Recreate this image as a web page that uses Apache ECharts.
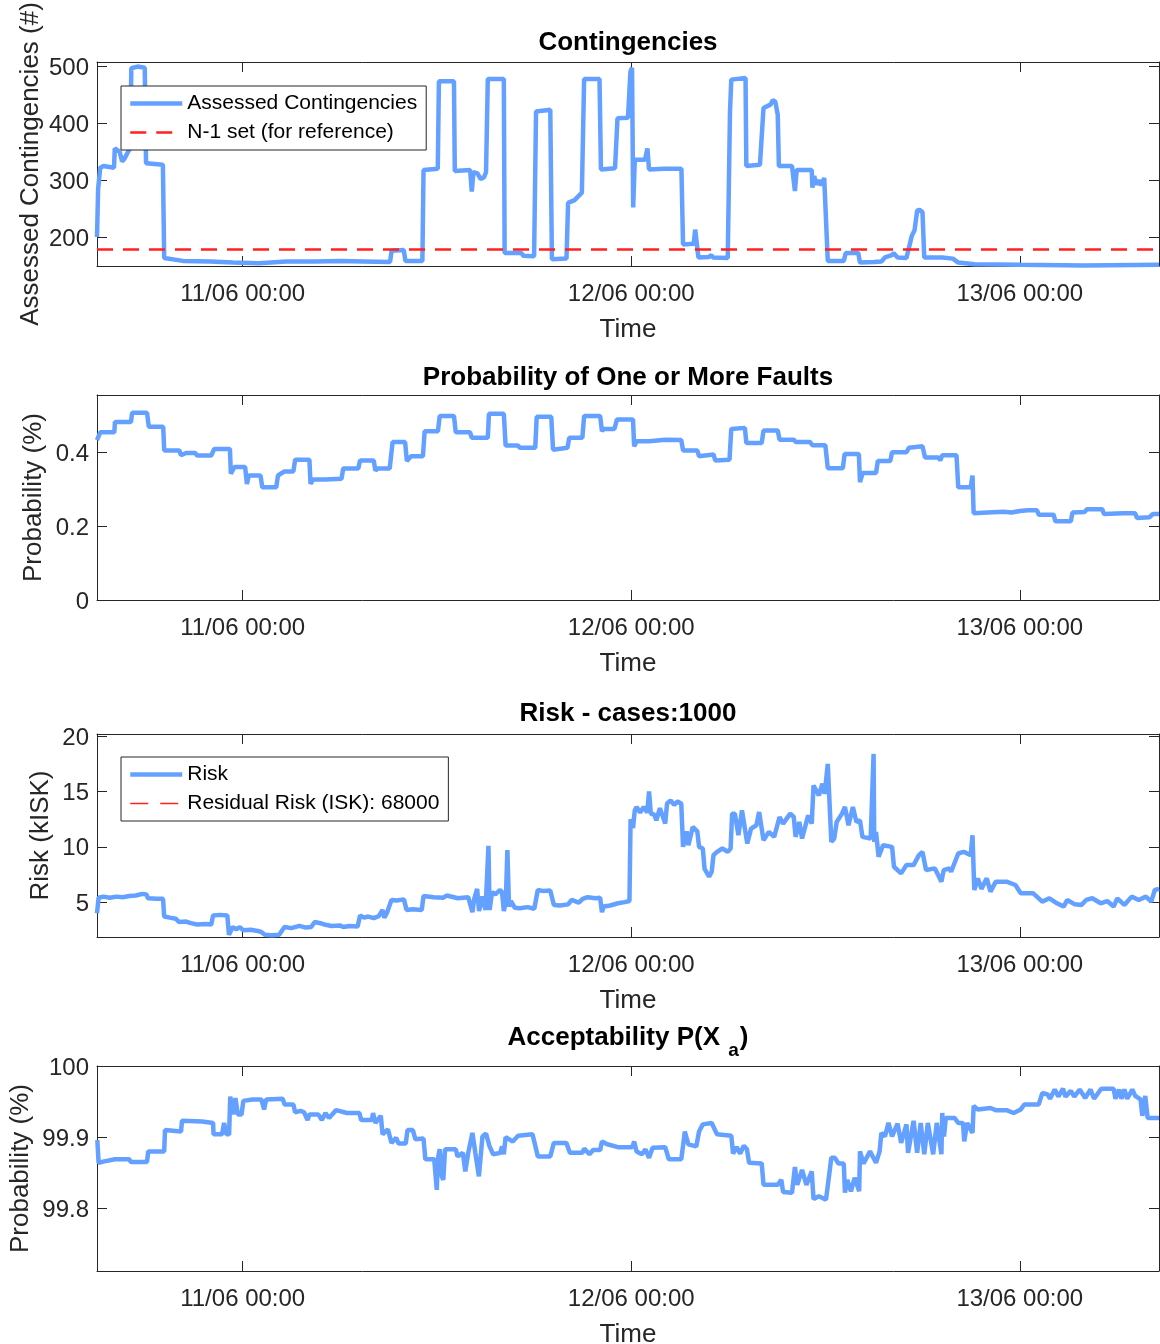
<!DOCTYPE html>
<html><head><meta charset="utf-8">
<script src="https://cdn.jsdelivr.net/npm/echarts@6/dist/echarts.min.js"></script>
<style>html,body{margin:0;padding:0;background:#fff}#c{width:1160px;height:1344px}</style>
</head><body><div id="c"></div><script>
// ---------------- DATA (time in hours relative to 11/06 00:00) ----------------
const timeTickHours = [0, 24, 48];
const timeTickLabels = ['11/06 00:00', '12/06 00:00', '13/06 00:00'];
const timeStart = -9.0, timeEnd = 56.6;

const contingencies = [[-9.0,200],[-8.93,285],[-8.8,322],[-8.6,325],[-7.95,322],[-7.9,356],[-7.6,350],[-7.45,333],[-7.3,338],[-7.12,348],[-6.95,356],[-6.88,497],[-6.5,500],[-6.05,498],[-5.97,330],[-5.6,329],[-4.93,327],[-4.85,163],[-3.7,158],[-2.0,157],[-0.6,155],[1.0,154],[2.7,157],[4.5,157],[6.0,158],[7.5,157],[9.1,156],[9.2,176],[9.95,177],[10.05,158],[11.1,158],[11.17,318],[12.05,320],[12.12,474],[13.05,474],[13.1,316],[14.05,318],[14.15,280],[14.25,314],[14.5,312],[14.7,302],[14.9,305],[15.03,314],[15.14,478],[16.13,478],[16.18,172],[17.2,172],[17.34,167],[18.0,166],[18.12,421],[19.0,424],[19.1,161],[20.0,162],[20.1,260],[20.5,265],[20.95,278],[21.09,478],[22.04,478],[22.13,319],[23.0,321],[23.15,409],[23.8,410],[23.95,491],[24.05,498],[24.12,252],[24.22,336],[24.85,336],[25.0,356],[25.1,319],[26.0,320],[27.1,320],[27.2,187],[27.86,188],[27.95,213],[28.05,213],[28.15,164],[28.8,165],[28.95,168],[29.05,164],[29.96,163],[30.1,420],[30.18,477],[31.06,480],[31.11,325],[31.95,327],[32.17,427],[32.6,433],[32.75,441],[32.9,438],[33.05,415],[33.12,325],[33.93,325],[34.05,325],[34.11,281],[34.22,318],[35.15,318],[35.19,287],[35.3,307],[35.45,292],[35.59,300],[35.75,291],[35.92,304],[36.14,158],[37.13,158],[37.25,172],[38.02,172],[38.13,155],[39.0,156],[39.45,157],[39.67,164],[40.11,168],[40.2,172],[40.45,164],[41.0,163],[41.33,202],[41.5,212],[41.66,246],[41.8,248],[41.99,244],[42.1,164],[43.21,164],[43.87,162],[44.2,155],[45.2,152],[48.0,151],[52.0,150],[56.6,151]];
const n1SetSize = 178;

const faultProbability = [[-9.0,0.433],[-8.8,0.454],[-7.93,0.454],[-7.89,0.482],[-6.9,0.482],[-6.83,0.507],[-5.91,0.507],[-5.8,0.469],[-4.91,0.469],[-4.85,0.405],[-3.92,0.405],[-3.81,0.392],[-3.5,0.398],[-2.93,0.398],[-2.82,0.391],[-1.94,0.391],[-1.76,0.409],[-0.79,0.409],[-0.73,0.342],[-0.51,0.36],[0.15,0.36],[0.26,0.314],[0.37,0.337],[1.1,0.337],[1.21,0.305],[2.07,0.305],[2.18,0.337],[2.58,0.348],[3.13,0.348],[3.24,0.38],[4.12,0.38],[4.19,0.314],[4.34,0.326],[5.11,0.326],[5.22,0.328],[6.1,0.328],[6.21,0.356],[7.14,0.356],[7.25,0.378],[8.09,0.378],[8.2,0.35],[8.31,0.356],[9.08,0.356],[9.26,0.428],[10.03,0.428],[10.14,0.376],[10.4,0.389],[11.13,0.389],[11.24,0.457],[12.06,0.457],[12.17,0.498],[13.05,0.498],[13.16,0.454],[14.04,0.454],[14.15,0.439],[15.14,0.439],[15.21,0.504],[16.13,0.504],[16.24,0.418],[17.01,0.418],[17.12,0.412],[18.07,0.412],[18.16,0.496],[19.06,0.496],[19.17,0.407],[20.06,0.412],[20.17,0.439],[20.98,0.439],[21.09,0.498],[22.08,0.498],[22.19,0.457],[22.3,0.463],[22.96,0.463],[23.12,0.489],[24.11,0.489],[24.18,0.416],[24.33,0.43],[25.1,0.43],[25.21,0.434],[26.1,0.434],[26.21,0.433],[27.09,0.433],[27.2,0.405],[28.08,0.405],[28.19,0.389],[28.25,0.394],[29.08,0.394],[29.19,0.378],[29.25,0.38],[30.07,0.38],[30.18,0.463],[31.02,0.466],[31.11,0.425],[32.06,0.425],[32.17,0.459],[33.05,0.459],[33.16,0.434],[34.04,0.434],[34.15,0.428],[35.04,0.428],[35.19,0.419],[35.99,0.419],[36.14,0.357],[37.07,0.357],[37.18,0.395],[38.06,0.395],[38.13,0.319],[38.3,0.344],[39.12,0.344],[39.23,0.376],[40.0,0.376],[40.11,0.4],[41.0,0.4],[41.15,0.412],[41.99,0.416],[42.15,0.386],[42.98,0.386],[43.09,0.378],[43.21,0.392],[44.09,0.392],[44.2,0.305],[44.97,0.305],[45.08,0.337],[45.15,0.235],[46.0,0.237],[47.0,0.239],[47.5,0.237],[48.0,0.241],[48.5,0.243],[49.06,0.243],[49.17,0.231],[50.09,0.231],[50.2,0.213],[51.15,0.213],[51.26,0.237],[52.0,0.238],[52.15,0.246],[53.09,0.246],[53.2,0.233],[54.4,0.235],[55.13,0.235],[55.24,0.222],[56.01,0.224],[56.23,0.233],[56.6,0.233]];

const riskKISK = [[-9.0,4.0],[-8.9,5.4],[-8.6,5.5],[-8.2,5.4],[-7.8,5.5],[-7.4,5.45],[-7.0,5.55],[-6.6,5.6],[-6.2,5.75],[-5.95,5.7],[-5.85,5.35],[-5.3,5.3],[-4.92,5.3],[-4.85,3.7],[-4.5,3.6],[-4.14,3.5],[-3.92,3.2],[-3.5,3.25],[-3.2,3.1],[-2.82,2.98],[-2.3,3.02],[-1.94,2.98],[-1.83,3.8],[-1.4,3.85],[-0.95,3.8],[-0.85,2.05],[-0.62,2.75],[-0.4,2.55],[-0.18,2.75],[0.04,2.45],[0.5,2.5],[0.93,2.4],[1.15,2.3],[1.37,2.05],[1.8,2.0],[2.25,2.05],[2.58,2.75],[3.0,2.65],[3.5,2.85],[3.9,2.7],[4.23,2.75],[4.45,3.2],[4.8,3.1],[5.11,2.95],[5.5,2.85],[5.99,2.9],[6.21,2.75],[6.6,2.85],[7.1,2.8],[7.25,3.8],[7.5,3.6],[7.76,3.7],[8.1,3.55],[8.42,3.75],[8.64,4.3],[8.75,3.6],[8.9,4.0],[9.19,5.2],[9.5,5.15],[9.96,5.25],[10.12,4.3],[10.5,4.35],[11.06,4.3],[11.17,5.55],[11.28,5.4],[11.8,5.45],[12.4,5.4],[12.6,5.6],[13.3,5.35],[13.93,5.45],[14.19,4.1],[14.3,5.3],[14.48,6.2],[14.6,4.2],[14.81,5.5],[15.0,4.3],[15.1,4.2],[15.18,10.1],[15.25,4.3],[15.4,5.9],[15.6,5.7],[15.9,6.1],[16.02,5.9],[16.13,4.2],[16.25,5.0],[16.35,9.7],[16.45,4.6],[16.57,5.1],[16.8,4.5],[17.12,4.45],[17.6,4.55],[18.01,4.4],[18.23,6.1],[18.6,6.0],[19.0,6.05],[19.22,4.75],[19.6,4.7],[20.1,4.8],[20.32,5.2],[20.76,4.95],[21.0,5.3],[21.31,5.45],[21.8,5.35],[22.08,5.4],[22.19,4.1],[22.3,4.6],[22.7,4.7],[23.18,4.9],[23.6,5.0],[23.89,5.1],[23.96,12.5],[24.11,11.7],[24.22,13.3],[24.33,13.6],[24.55,13.1],[24.77,13.6],[24.99,13.1],[25.1,15.0],[25.21,13.0],[25.43,12.9],[25.55,12.4],[25.77,13.5],[26.1,12.1],[26.21,13.9],[26.43,14.2],[26.65,13.8],[26.87,14.1],[27.09,13.9],[27.2,10.0],[27.42,11.4],[27.53,10.15],[27.8,11.8],[28.08,11.4],[28.19,10.0],[28.42,9.85],[28.53,8.0],[28.64,8.0],[28.81,7.3],[28.97,7.75],[29.08,9.25],[29.3,9.55],[29.63,9.85],[29.96,9.55],[30.14,9.85],[30.23,13.0],[30.4,13.0],[30.62,11.05],[30.84,13.3],[31.17,10.3],[31.4,11.65],[31.73,11.95],[31.9,13.15],[32.17,10.6],[32.5,11.35],[32.83,10.9],[33.16,12.7],[33.38,12.1],[33.82,13.0],[34.04,12.7],[34.15,10.9],[34.38,12.25],[34.55,10.75],[34.93,12.85],[35.15,12.1],[35.26,15.55],[35.59,14.65],[35.81,15.7],[35.95,14.8],[36.14,17.5],[36.36,10.45],[36.54,10.75],[36.69,12.25],[37.02,13.0],[37.2,13.6],[37.42,11.95],[37.69,13.6],[37.91,12.25],[38.13,12.4],[38.28,10.9],[38.79,10.75],[38.9,10.9],[38.97,18.4],[39.01,10.45],[39.12,11.35],[39.28,9.1],[39.56,10.15],[40.11,10.0],[40.23,8.2],[40.67,7.6],[41.0,8.35],[41.44,8.35],[41.77,9.25],[41.99,9.55],[42.21,7.9],[42.76,8.05],[43.16,6.85],[43.3,7.9],[43.65,8.05],[43.76,7.75],[44.2,9.4],[44.53,9.55],[44.97,9.25],[45.08,11.05],[45.19,6.1],[45.41,7.15],[45.63,6.2],[45.96,7.15],[46.19,5.95],[46.52,6.85],[47.18,6.85],[47.73,6.55],[48.06,5.8],[48.83,5.8],[49.39,5.05],[49.83,5.35],[50.3,4.9],[50.71,4.6],[50.93,5.2],[51.4,4.8],[51.81,4.75],[52.1,5.2],[52.48,5.35],[53.0,4.9],[53.4,5.1],[53.8,4.6],[54.02,5.35],[54.46,4.75],[54.91,5.5],[55.35,5.2],[55.79,5.5],[56.12,5.05],[56.34,6.1],[56.6,6.2]];
const residualRiskKISK = 68;

const acceptability = [[-8.98,99.896],[-8.9,99.864],[-8.55,99.866],[-7.89,99.869],[-7.01,99.869],[-6.9,99.865],[-5.91,99.865],[-5.84,99.880],[-4.85,99.880],[-4.8,99.910],[-3.81,99.908],[-3.75,99.923],[-2.5,99.922],[-1.83,99.920],[-1.8,99.904],[-1.28,99.904],[-1.15,99.920],[-1.0,99.904],[-0.84,99.904],[-0.77,99.957],[-0.6,99.932],[-0.45,99.955],[-0.3,99.932],[-0.07,99.932],[0.04,99.951],[0.6,99.953],[1.15,99.953],[1.32,99.939],[1.45,99.953],[2.47,99.954],[2.58,99.946],[3.13,99.946],[3.24,99.935],[3.57,99.937],[3.79,99.935],[4.01,99.924],[4.12,99.932],[4.67,99.932],[4.89,99.924],[5.11,99.934],[5.33,99.927],[5.77,99.938],[6.44,99.934],[7.21,99.934],[7.32,99.924],[7.98,99.924],[8.05,99.934],[8.2,99.920],[8.53,99.930],[8.64,99.904],[8.97,99.911],[9.19,99.892],[9.48,99.899],[9.63,99.891],[10.07,99.891],[10.18,99.910],[10.51,99.910],[10.67,99.897],[11.17,99.898],[11.28,99.869],[11.83,99.869],[11.99,99.826],[12.05,99.869],[12.17,99.883],[12.3,99.845],[12.39,99.840],[12.5,99.883],[13.16,99.883],[13.27,99.873],[13.6,99.878],[13.75,99.852],[13.93,99.878],[14.19,99.906],[14.37,99.878],[14.59,99.845],[14.81,99.901],[15.03,99.905],[15.25,99.887],[15.47,99.876],[15.91,99.878],[16.02,99.887],[16.13,99.876],[16.24,99.900],[16.68,99.894],[17.01,99.902],[17.9,99.904],[18.0,99.902],[18.23,99.873],[19.0,99.873],[19.22,99.892],[19.99,99.892],[20.21,99.878],[20.98,99.878],[21.09,99.884],[21.42,99.876],[21.64,99.882],[22.08,99.882],[22.19,99.894],[22.52,99.890],[23.18,99.886],[24.07,99.886],[24.18,99.894],[24.33,99.880],[24.66,99.876],[24.88,99.883],[25.1,99.871],[25.32,99.885],[26.1,99.886],[26.32,99.869],[27.09,99.869],[27.2,99.888],[27.31,99.908],[27.53,99.890],[28.02,99.887],[28.19,99.908],[28.42,99.918],[28.97,99.920],[29.3,99.904],[30.18,99.902],[30.29,99.877],[30.51,99.886],[30.73,99.877],[30.95,99.888],[31.15,99.883],[31.28,99.864],[32.06,99.863],[32.17,99.833],[33.05,99.833],[33.27,99.840],[33.38,99.823],[33.93,99.822],[34.11,99.858],[34.26,99.833],[34.55,99.854],[34.82,99.833],[35.15,99.852],[35.26,99.813],[35.59,99.817],[36.03,99.812],[36.36,99.871],[36.58,99.871],[36.8,99.863],[37.13,99.863],[37.2,99.822],[37.35,99.840],[37.57,99.824],[37.8,99.843],[38.08,99.824],[38.13,99.880],[38.35,99.863],[38.75,99.880],[39.12,99.864],[39.34,99.880],[39.45,99.906],[39.67,99.901],[39.89,99.920],[40.11,99.901],[40.45,99.919],[40.67,99.892],[41.0,99.918],[41.1,99.878],[41.44,99.923],[41.66,99.878],[41.88,99.920],[42.1,99.876],[42.32,99.920],[42.65,99.876],[42.87,99.920],[43.16,99.876],[43.21,99.934],[43.32,99.901],[43.43,99.927],[43.98,99.927],[44.2,99.920],[44.49,99.920],[44.57,99.894],[44.75,99.920],[45.08,99.906],[45.15,99.944],[45.41,99.939],[46.19,99.941],[46.52,99.938],[47.18,99.938],[47.62,99.934],[48.06,99.939],[48.28,99.946],[49.17,99.946],[49.39,99.962],[49.72,99.960],[49.87,99.954],[50.16,99.967],[50.38,99.957],[50.67,99.968],[50.82,99.957],[51.15,99.965],[51.37,99.957],[51.7,99.967],[52.04,99.955],[52.37,99.967],[52.59,99.954],[53.03,99.968],[53.8,99.968],[53.91,99.954],[54.13,99.967],[54.28,99.954],[54.46,99.967],[54.64,99.954],[54.95,99.967],[55.13,99.958],[55.46,99.953],[55.57,99.930],[55.75,99.958],[55.9,99.927],[56.6,99.927]];

const yTicksContingencies = [200, 300, 400, 500];
const yTicksProbability = [0, 0.2, 0.4];
const yTicksRisk = [5, 10, 15, 20];
const yTicksAcceptability = [99.8, 99.9, 100];

// ---------------- STYLE / LAYOUT ----------------
const FONT = '"Liberation Sans", Arial, Helvetica, sans-serif';
const AX = '#262626';
const BLUE = '#64A0FF';
const RED = '#FF2020';
const DASH = [16, 10];

const panels = [
  {top: 62,  height: 204, min: 149,   max: 508,   ticks: yTicksContingencies, name: 'Assessed Contingencies (#)', gap: 53, titleY: 43},
  {top: 395, height: 205, min: 0,     max: 0.555, ticks: yTicksProbability,   name: 'Probability (%)',            gap: 50, titleY: 378},
  {top: 734, height: 203, min: 1.85,  max: 20.2,  ticks: yTicksRisk,          name: 'Risk (kISK)',                gap: 43, titleY: 714},
  {top: 1066,height: 205, min: 99.712,max: 100.0, ticks: yTicksAcceptability, name: 'Probability (%)',            gap: 63, titleY: 1036}
];

const grids = [], xAxes = [], yAxes = [];
panels.forEach((p, i) => {
  grids.push({left: 97, right: 1, top: p.top, height: p.height, containLabel: false, outerBoundsMode: 'none'});
  xAxes.push({
    type: 'value', gridIndex: i, min: timeStart, max: timeEnd, position: 'bottom',
    axisLine: {show: true, onZero: false, lineStyle: {color: AX, width: 1}},
    axisTick: {show: true, inside: true, length: 10, customValues: timeTickHours, lineStyle: {color: AX}},
    axisLabel: {show: true, customValues: timeTickHours, margin: 16, color: AX, fontSize: 24, fontFamily: FONT,
      formatter: v => { const k = timeTickHours.indexOf(v); return k >= 0 ? timeTickLabels[k] : ''; }},
    splitLine: {show: false},
    name: 'Time', nameLocation: 'middle', nameGap: 51, nameMoveOverlap: false,
    nameTextStyle: {color: AX, fontSize: 26, fontFamily: FONT}
  });
  xAxes.push({
    type: 'value', gridIndex: i, min: timeStart, max: timeEnd, position: 'top',
    axisLine: {show: true, onZero: false, lineStyle: {color: AX, width: 1}},
    axisTick: {show: true, inside: true, length: 10, customValues: timeTickHours, lineStyle: {color: AX}},
    axisLabel: {show: false}, splitLine: {show: false}
  });
  yAxes.push({
    type: 'value', gridIndex: i, min: p.min, max: p.max, position: 'left',
    axisLine: {show: true, onZero: false, lineStyle: {color: AX, width: 1}},
    axisTick: {show: true, inside: true, length: 10, customValues: p.ticks, lineStyle: {color: AX}},
    axisLabel: {show: true, customValues: p.ticks, margin: 8, color: AX, fontSize: 24, fontFamily: FONT,
      verticalAlign: 'top', lineHeight: 4},
    splitLine: {show: false},
    name: p.name, nameLocation: 'middle', nameGap: p.gap, nameMoveOverlap: false,
    nameTextStyle: {color: AX, fontSize: 26, fontFamily: FONT}
  });
  yAxes.push({
    type: 'value', gridIndex: i, min: p.min, max: p.max, position: 'right',
    axisLine: {show: true, onZero: false, lineStyle: {color: AX, width: 1}},
    axisTick: {show: true, inside: true, length: 10, customValues: p.ticks, lineStyle: {color: AX}},
    axisLabel: {show: false}, splitLine: {show: false}
  });
});

function lineSeries(name, data, panel, color, width, dash, z) {
  return {
    type: 'line', name, data, xAxisIndex: panel * 2, yAxisIndex: panel * 2,
    symbol: 'none', showSymbol: false, clip: true, z: z || 2, animation: false,
    lineStyle: {color, width, type: dash || 'solid'}, itemStyle: {color},
    emphasis: {disabled: true}
  };
}

const series = [
  lineSeries('Assessed Contingencies', contingencies, 0, BLUE, 4.5),
  lineSeries('N-1 set (for reference)', [[timeStart, n1SetSize], [timeEnd, n1SetSize]], 0, RED, 2.5, DASH, 3),
  lineSeries('Probability', faultProbability, 1, BLUE, 4.5),
  lineSeries('Risk', riskKISK, 2, BLUE, 4.5),
  lineSeries('Residual Risk (ISK): 68000', [[timeStart, residualRiskKISK], [timeEnd, residualRiskKISK]], 2, RED, 1, DASH, 3),
  lineSeries('Acceptability', acceptability, 3, BLUE, 4.5)
];

const legendBase = {
  orient: 'vertical', left: 121, padding: [7, 9, 7, 7],
  itemWidth: 52, itemHeight: 14, itemGap: 8, itemTextGap: 6,
  backgroundColor: '#fff', borderColor: AX, borderWidth: 1, borderRadius: 0,
  selectedMode: false,
  textStyle: {color: '#000', fontSize: 21, lineHeight: 21, fontFamily: FONT}
};
const legendHide = {color: 'rgba(0,0,0,0)', borderColor: 'rgba(0,0,0,0)', borderWidth: 0, opacity: 0};
// thin dashed legend sample (two dashes across a 52x14 box)
const thinDashIcon = 'path://M0,0 M52,14 M0,6.3 L18,6.3 L18,7.7 L0,7.7 Z M30,6.3 L48,6.3 L48,7.7 L30,7.7 Z';

const titleFont = 'bold 26px ' + FONT;
const titles = ['Contingencies', 'Probability of One or More Faults', 'Risk - cases:1000'];
const graphic = titles.map((t, i) => ({
  type: 'text', x: 628, y: panels[i].titleY,
  style: {text: t, font: titleFont, fill: '#000', align: 'center', verticalAlign: 'middle'}
}));
graphic.push({
  type: 'text', x: 628, y: panels[3].titleY + 2,
  style: {
    text: '{m|Acceptability P(X }{s|a}{m|)}',
    align: 'center', verticalAlign: 'middle', fill: '#000',
    rich: {
      m: {font: titleFont, fill: '#000', lineHeight: 44},
      s: {font: 'bold 19px ' + FONT, fill: '#000', padding: [25, 1, 0, 1], lineHeight: 44}
    }
  }
});

const chart = echarts.init(document.getElementById('c'), null, {renderer: 'canvas', width: 1160, height: 1344});
chart.setOption({
  animation: false,
  backgroundColor: '#fff',
  grid: grids, xAxis: xAxes, yAxis: yAxes, series,
  legend: [
    Object.assign({}, legendBase, {top: 86, data: [
      {name: 'Assessed Contingencies', itemStyle: legendHide, lineStyle: {color: BLUE, width: 4.5, type: 'solid'}},
      {name: 'N-1 set (for reference)', itemStyle: legendHide, lineStyle: {color: RED, width: 2.5, type: DASH}}
    ]}),
    Object.assign({}, legendBase, {top: 757, data: [
      {name: 'Risk', itemStyle: legendHide, lineStyle: {color: BLUE, width: 4.5, type: 'solid'}},
      {name: 'Residual Risk (ISK): 68000', icon: thinDashIcon, itemStyle: {color: RED, borderWidth: 0, opacity: 1}}
    ]})
  ],
  graphic
});
</script></body></html>
